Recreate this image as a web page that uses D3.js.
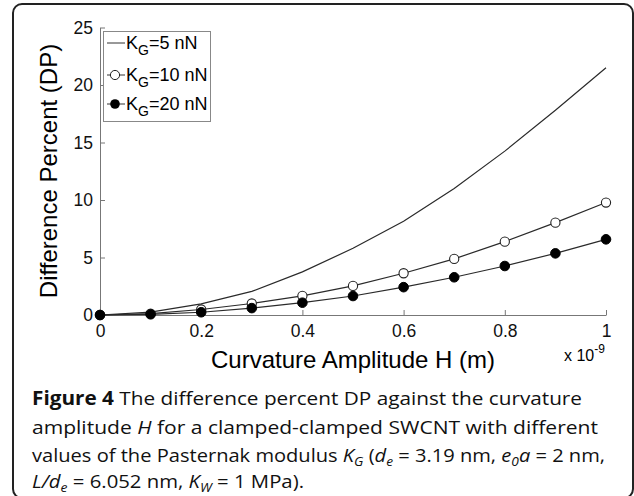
<!DOCTYPE html>
<html>
<head>
<meta charset="utf-8">
<script src="https://cdn.jsdelivr.net/npm/d3@7"></script>
<style>
  body { margin: 0; background: #fff; }
  svg { display: block; }
  .axis text { font-family: "Liberation Sans", Arial, sans-serif; font-size: 17.5px; fill: #111; }
  .axis path, .axis line { stroke: #777; }
</style>
</head>
<body>
<div id="chart"></div>
<script>
// data
const H = [0, 0.1, 0.2, 0.3, 0.4, 0.5, 0.6, 0.7, 0.8, 0.9, 1.0];
const kg5 = [0, 0.25, 0.97, 2.05, 3.75, 5.8, 8.15, 11.0, 14.25, 17.8, 21.5];
const kg10 = [0, 0.12, 0.48, 1.0, 1.67, 2.53, 3.63, 4.88, 6.38, 8.03, 9.78];
const kg20 = [0, 0.06, 0.24, 0.6, 1.07, 1.65, 2.42, 3.28, 4.26, 5.36, 6.58];
const xTicks = [0, 0.2, 0.4, 0.6, 0.8, 1];
const yTicks = [0, 5, 10, 15, 20, 25];
const legendLabels = ["5 nN", "10 nN", "20 nN"];

const width = 634, height = 496;
const svg = d3.select('#chart').append('svg')
  .attr('width', width)
  .attr('height', height);

// rounded frame round the whole figure
svg.append('rect')
  .attr('x', 13).attr('y', 4)
  .attr('width', 620).attr('height', 494)
  .attr('rx', 9)
  .attr('fill', 'none')
  .attr('stroke', '#222')
  .attr('stroke-width', 2);

const x = d3.scaleLinear().domain([0, 1]).range([100, 606]);
const y = d3.scaleLinear().domain([0, 25]).range([315, 27.5]);

svg.append('g')
  .attr('class', 'axis')
  .attr('transform', 'translate(0,315)')
  .call(d3.axisBottom(x).tickValues(xTicks).tickFormat(d3.format('~g'))
    .tickSizeInner(-5).tickSizeOuter(0).tickPadding(10));

svg.append('g')
  .attr('class', 'axis')
  .attr('transform', 'translate(100,0)')
  .call(d3.axisLeft(y).tickValues(yTicks)
    .tickSizeInner(-5).tickSizeOuter(0).tickPadding(7));

const line = d3.line()
  .x((d, i) => x(H[i]))
  .y(d => y(d));

[kg5, kg10, kg20].forEach(s => {
  svg.append('path').datum(s)
    .attr('d', line).attr('fill', 'none').attr('stroke', '#2a2a2a').attr('stroke-width', 1.2);
});

svg.selectAll('.m10').data(kg10).enter().append('circle')
  .attr('class', 'm10')
  .attr('cx', (d, i) => x(H[i])).attr('cy', d => y(d))
  .attr('r', 4.6)
  .attr('fill', '#fff').attr('stroke', '#222').attr('stroke-width', 1.1);

svg.selectAll('.m20').data(kg20).enter().append('circle')
  .attr('class', 'm20')
  .attr('cx', (d, i) => x(H[i])).attr('cy', d => y(d))
  .attr('r', 4.8)
  .attr('fill', '#000').attr('stroke', '#000');

// axis titles
svg.append('text')
  .attr('x', 353).attr('y', 368)
  .attr('text-anchor', 'middle')
  .style('font-family', '"Liberation Sans", Arial, sans-serif')
  .style('font-size', '24px')
  .text('Curvature Amplitude H (m)');

svg.append('text')
  .attr('transform', 'translate(57,171) rotate(-90)')
  .attr('text-anchor', 'middle')
  .style('font-family', '"Liberation Sans", Arial, sans-serif')
  .style('font-size', '24px')
  .text('Difference Percent (DP)');

const expo = svg.append('text')
  .attr('x', 564).attr('y', 361)
  .style('font-family', '"Liberation Sans", Arial, sans-serif')
  .style('font-size', '16px');
expo.append('tspan').text('x 10');
expo.append('tspan').attr('dy', -8).style('font-size', '12px').text('-9');

// legend
const legend = svg.append('g');
legend.append('rect')
  .attr('x', 103.5).attr('y', 31.5)
  .attr('width', 107).attr('height', 90)
  .attr('fill', '#fff').attr('stroke', '#888');

const rowY = [43, 75, 104];
legendLabels.forEach((lab, i) => {
  const g = legend.append('g').attr('transform', `translate(0,${rowY[i]})`);
  g.append('line')
    .attr('x1', 107).attr('x2', 125).attr('y1', 0).attr('y2', 0)
    .attr('stroke', '#333');
  if (i === 1) {
    g.append('circle').attr('cx', 115).attr('cy', 0).attr('r', 4.6)
      .attr('fill', '#fff').attr('stroke', '#222');
  }
  if (i === 2) {
    g.append('circle').attr('cx', 115).attr('cy', 0).attr('r', 4.8)
      .attr('fill', '#000');
  }
  const t = g.append('text')
    .attr('x', 126).attr('y', 6)
    .style('font-family', '"Liberation Sans", Arial, sans-serif')
    .style('font-size', '18px');
  t.append('tspan').text('K');
  t.append('tspan').attr('dy', 6).style('font-size', '14px').text('G');
  t.append('tspan').attr('dy', -6).text('=' + lab);
});

// caption
const capLines = [
  [['b', 'Figure 4'], ['n', ' The difference percent DP against the curvature']],
  [['n', 'amplitude '], ['i', 'H'], ['n', ' for a clamped-clamped SWCNT with different']],
  [['n', 'values of the Pasternak modulus '], ['i', 'K'], ['isub', 'G'], ['n', ' ('], ['i', 'd'], ['isub', 'e'],
   ['n', ' = 3.19 nm, '], ['i', 'e'], ['isub', '0'], ['i', 'a'], ['n', ' = 2 nm,']],
  [['i', 'L/d'], ['isub', 'e'], ['n', ' = 6.052 nm, '], ['i', 'K'], ['isub', 'W'], ['n', ' = 1 MPa).']]
];
const capLen = [550, 566, 573, 272];
const capY = [405, 434, 462, 488];

capLines.forEach((parts, i) => {
  const t = svg.append('text')
    .attr('x', 32).attr('y', capY[i])
    .attr('textLength', capLen[i])
    .attr('lengthAdjust', 'spacingAndGlyphs')
    .style('font-family', '"Open Sans", "Liberation Sans", sans-serif')
    .style('font-size', '19px')
    .style('fill', '#111');
  let sub = false;
  parts.forEach(([k, s]) => {
    const ts = t.append('tspan').text(s);
    if (k === 'b') ts.style('font-weight', 'bold');
    if (k === 'i' || k === 'isub') ts.style('font-style', 'italic');
    if (k === 'isub') {
      ts.attr('dy', sub ? 0 : 4).style('font-size', '13px');
      sub = true;
    } else if (sub) {
      ts.attr('dy', -4);
      sub = false;
    }
  });
});
</script>
</body>
</html>
